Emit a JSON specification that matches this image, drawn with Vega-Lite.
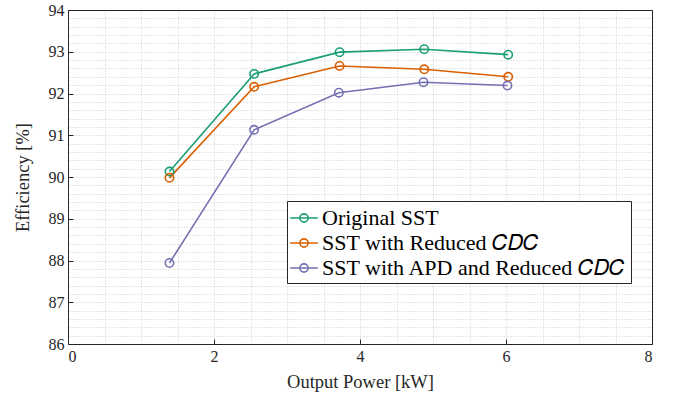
{
  "$schema": "https://vega.github.io/schema/vega-lite/v6.json",
  "width": 584,
  "height": 334,
  "autosize": "none",
  "padding": {"left": 68, "top": 10, "right": 23, "bottom": 54},
  "background": "white",
  "config": {
    "view": {"stroke": null},
    "font": "Liberation Serif",
    "axis": {
      "domainColor": "#262626",
      "domainWidth": 1,
      "tickColor": "#262626",
      "labelColor": "#262626",
      "titleColor": "#262626",
      "labelFont": "Liberation Serif",
      "titleFont": "Liberation Serif",
      "labelFontSize": 16,
      "titleFontSize": 18.5,
      "titleFontWeight": "normal"
    }
  },
  "data": {
    "values": [
      {"power": 1.39, "eff": 90.13, "series": "Original SST"},
      {"power": 2.55, "eff": 92.47, "series": "Original SST"},
      {"power": 3.72, "eff": 92.99, "series": "Original SST"},
      {"power": 4.88, "eff": 93.06, "series": "Original SST"},
      {"power": 6.03, "eff": 92.93, "series": "Original SST"},
      {"power": 1.39, "eff": 89.98, "series": "SST with Reduced 𝐶𝐷𝐶"},
      {"power": 2.55, "eff": 92.16, "series": "SST with Reduced 𝐶𝐷𝐶"},
      {"power": 3.72, "eff": 92.66, "series": "SST with Reduced 𝐶𝐷𝐶"},
      {"power": 4.88, "eff": 92.58, "series": "SST with Reduced 𝐶𝐷𝐶"},
      {"power": 6.03, "eff": 92.40, "series": "SST with Reduced 𝐶𝐷𝐶"},
      {"power": 1.39, "eff": 87.94, "series": "SST with APD and Reduced 𝐶𝐷𝐶"},
      {"power": 2.55, "eff": 91.13, "series": "SST with APD and Reduced 𝐶𝐷𝐶"},
      {"power": 3.71, "eff": 92.02, "series": "SST with APD and Reduced 𝐶𝐷𝐶"},
      {"power": 4.87, "eff": 92.27, "series": "SST with APD and Reduced 𝐶𝐷𝐶"},
      {"power": 6.02, "eff": 92.19, "series": "SST with APD and Reduced 𝐶𝐷𝐶"}
    ]
  },
  "layer": [
    {
      "mark": {"type": "point", "opacity": 0},
      "encoding": {
        "x": {
          "field": "power",
          "type": "quantitative",
          "scale": {"domain": [0, 8], "nice": false, "zero": false},
          "axis": {
            "orient": "top",
            "title": null,
            "labels": false,
            "ticks": false,
            "values": [0, 0.5, 1, 1.5, 2, 2.5, 3, 3.5, 4, 4.5, 5, 5.5, 6, 6.5, 7, 7.5, 8],
            "grid": true,
            "gridDash": [1, 2],
            "gridColor": "#cccccc",
            "gridWidth": 1
          }
        },
        "y": {
          "field": "eff",
          "type": "quantitative",
          "scale": {"domain": [86, 94], "nice": false, "zero": false},
          "axis": {
            "orient": "right",
            "title": null,
            "labels": false,
            "ticks": false,
            "values": [86, 86.2, 86.4, 86.6, 86.8, 87, 87.2, 87.4, 87.6, 87.8, 88, 88.2, 88.4, 88.6, 88.8, 89, 89.2, 89.4, 89.6, 89.8, 90, 90.2, 90.4, 90.6, 90.8, 91, 91.2, 91.4, 91.6, 91.8, 92, 92.2, 92.4, 92.6, 92.8, 93, 93.2, 93.4, 93.6, 93.8, 94],
            "grid": true,
            "gridDash": [1, 2],
            "gridColor": "#cccccc",
            "gridWidth": 1
          }
        }
      }
    },
    {
      "mark": {
        "type": "line",
        "strokeWidth": 1.6,
        "point": {"filled": false, "size": 70, "strokeWidth": 1.6, "fill": null}
      },
      "encoding": {
        "x": {
          "field": "power",
          "type": "quantitative",
          "axis": {
            "orient": "bottom",
            "title": "Output Power [kW]",
            "values": [0, 2, 4, 6, 8],
            "grid": false,
            "tickSize": -5,
            "labelFont": "Liberation Serif",
            "labelFontSize": 16,
            "labelPadding": 9,
            "titlePadding": 8
          }
        },
        "y": {
          "field": "eff",
          "type": "quantitative",
          "axis": {
            "orient": "left",
            "title": "Efficiency [%]",
            "values": [86, 87, 88, 89, 90, 91, 92, 93, 94],
            "grid": false,
            "tickSize": -5,
            "labelFont": "Liberation Serif",
            "labelFontSize": 16,
            "labelPadding": 9,
            "titlePadding": 16
          }
        },
        "color": {
          "field": "series",
          "type": "nominal",
          "scale": {
            "domain": ["Original SST", "SST with Reduced 𝐶𝐷𝐶", "SST with APD and Reduced 𝐶𝐷𝐶"],
            "range": ["#1b9e77", "#d95f02", "#7570b3"]
          },
          "legend": {
            "orient": "none",
            "legendX": 219,
            "legendY": 191,
            "title": null,
            "symbolType": "M-1.15,0L1.15,0M0.34,0A0.34,0.34,0,1,1,-0.34,0A0.34,0.34,0,1,1,0.34,0",
            "symbolSize": 576,
            "symbolStrokeWidth": 1.6,
            "symbolFillColor": "transparent",
            "labelFont": "Liberation Serif",
            "labelFontSize": 22,
            "labelColor": "black",
            "labelLimit": 400,
            "labelOffset": 5,
            "rowPadding": 1,
            "padding": 4,
            "strokeColor": "#262626",
            "fillColor": "white"
          }
        }
      }
    }
  ],
  "resolve": {"axis": {"x": "independent", "y": "independent"}}
}
